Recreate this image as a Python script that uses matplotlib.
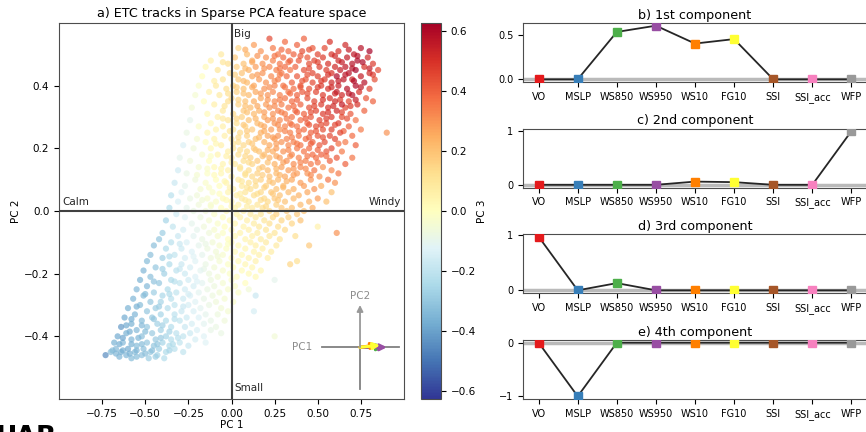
import matplotlib
matplotlib.use("Agg")
import matplotlib.pyplot as plt
import numpy as np

# ---------------- data ----------------
features = ["VO", "MSLP", "WS850", "WS950", "WS10", "FG10", "SSI", "SSI_acc", "WFP"]
comp1 = [0.0, 0.0, 0.53, 0.60, 0.40, 0.45, 0.0, 0.0, 0.0]
comp2 = [0.0, 0.0, 0.0, 0.0, 0.06, 0.05, 0.0, 0.0, 1.0]
comp3 = [0.97, 0.0, 0.13, 0.0, 0.0, 0.0, 0.0, 0.0, 0.0]
comp4 = [0.0, -1.0, 0.0, 0.0, 0.0, 0.0, 0.0, 0.0, 0.0]
panel_titles = ["b) 1st component", "c) 2nd component", "d) 3rd component", "e) 4th component"]
panel_yticks = [[0.0, 0.5], [0, 1], [0, 1], [-1, 0]]
cbar_ticks = [-0.6, -0.4, -0.2, 0.0, 0.2, 0.4, 0.6]

# scatter of tracks: PC2 level of each row, PC1 positions and PC3 colour values per row
pc2_levels = [0.55, 0.54, 0.53, 0.52, 0.51, 0.50, 0.49, 0.48, 0.47, 0.46, 0.45, 0.44, 0.43,
              0.42, 0.41, 0.40, 0.39, 0.38, 0.37, 0.36, 0.35, 0.34, 0.33, 0.32, 0.31, 0.30,
              0.29, 0.28, 0.27, 0.26, 0.25, 0.24, 0.23, 0.22, 0.21, 0.20, 0.19, 0.18, 0.17,
              0.16, 0.15, 0.14, 0.13, 0.12, 0.11, 0.10, 0.09, 0.08, 0.07, 0.06, 0.05, 0.04,
              0.03, 0.02, 0.01, 0.00, -0.01, -0.02, -0.03, -0.04, -0.05, -0.06, -0.07, -0.08,
              -0.09, -0.10, -0.11, -0.12, -0.13, -0.14, -0.15, -0.16, -0.17, -0.18, -0.19,
              -0.20, -0.21, -0.22, -0.23, -0.24, -0.25, -0.26, -0.27, -0.28, -0.29, -0.30,
              -0.31, -0.32, -0.33, -0.34, -0.35, -0.36, -0.37, -0.38, -0.39, -0.40, -0.41,
              -0.42, -0.43, -0.44, -0.45, -0.46, -0.47]
pc1_rows = [
    [0.22, 0.42],
    [0.31, 0.57],
    [0.13, 0.38, 0.66],
    [0.04, 0.24, 0.47, 0.54, 0.75],
    [0.17, 0.33, 0.41, 0.62, 0.80],
    [-0.06, 0.09, 0.27, 0.36, 0.50, 0.58, 0.71],
    [0.02, 0.20, 0.30, 0.44, 0.53, 0.67, 0.79],
    [-0.12, 0.12, 0.24, 0.34, 0.39, 0.48, 0.62, 0.73],
    [-0.02, 0.07, 0.18, 0.28, 0.45, 0.56, 0.70, 0.82],
    [-0.15, 0.03, 0.14, 0.22, 0.31, 0.37, 0.51, 0.60, 0.66, 0.77],
    [-0.08, 0.10, 0.26, 0.34, 0.42, 0.55, 0.63, 0.72, 0.85],
    [-0.01, 0.06, 0.18, 0.29, 0.47, 0.58, 0.68, 0.80],
    [-0.17, 0.12, 0.23, 0.32, 0.38, 0.50, 0.61, 0.75],
    [-0.05, 0.04, 0.16, 0.27, 0.43, 0.54, 0.65, 0.70, 0.83],
    [0.09, 0.20, 0.35, 0.47, 0.58, 0.77],
    [-0.19, -0.09, 0.01, 0.13, 0.25, 0.30, 0.40, 0.52, 0.62, 0.72],
    [-0.03, 0.07, 0.19, 0.36, 0.45, 0.56, 0.67, 0.80],
    [-0.13, 0.03, 0.14, 0.24, 0.33, 0.41, 0.49, 0.61, 0.74],
    [-0.21, -0.07, 0.10, 0.21, 0.28, 0.38, 0.53, 0.64, 0.70],
    [0.00, 0.17, 0.31, 0.44, 0.57, 0.78],
    [-0.16, -0.02, 0.08, 0.13, 0.25, 0.35, 0.48, 0.60, 0.68, 0.82],
    [-0.10, 0.04, 0.20, 0.29, 0.40, 0.52, 0.64, 0.73],
    [-0.23, 0.11, 0.22, 0.33, 0.45, 0.56, 0.66],
    [-0.05, 0.07, 0.16, 0.27, 0.37, 0.49, 0.61, 0.77],
    [-0.14, 0.01, 0.13, 0.24, 0.31, 0.42, 0.53, 0.69],
    [-0.08, 0.06, 0.19, 0.35, 0.46, 0.58, 0.64],
    [-0.24, -0.02, 0.10, 0.21, 0.28, 0.40, 0.51, 0.72],
    [-0.12, 0.03, 0.15, 0.25, 0.34, 0.44, 0.55, 0.62],
    [-0.19, -0.05, 0.08, 0.19, 0.31, 0.38, 0.49, 0.68],
    [-0.09, 0.01, 0.12, 0.23, 0.28, 0.42, 0.53, 0.58, 0.75],
    [-0.26, -0.14, 0.05, 0.17, 0.34, 0.46, 0.63, 0.90],
    [-0.04, 0.09, 0.21, 0.27, 0.39, 0.50, 0.57, 0.70],
    [-0.20, -0.10, 0.00, 0.14, 0.25, 0.32, 0.43, 0.60],
    [-0.15, 0.04, 0.10, 0.19, 0.29, 0.36, 0.47, 0.54, 0.66],
    [-0.28, -0.06, 0.07, 0.22, 0.33, 0.40, 0.51, 0.72],
    [-0.22, -0.12, 0.01, 0.13, 0.26, 0.38, 0.45, 0.58],
    [-0.02, 0.09, 0.16, 0.24, 0.30, 0.42, 0.55, 0.64],
    [-0.17, -0.08, 0.04, 0.19, 0.35, 0.47, 0.52],
    [-0.30, 0.00, 0.11, 0.22, 0.28, 0.39, 0.49, 0.61, 0.70],
    [-0.24, -0.13, 0.07, 0.15, 0.32, 0.43, 0.57],
    [-0.05, 0.02, 0.12, 0.25, 0.36, 0.46, 0.66],
    [-0.19, -0.10, 0.05, 0.18, 0.29, 0.40, 0.53],
    [-0.31, -0.02, 0.10, 0.21, 0.33, 0.48, 0.58],
    [-0.26, -0.14, -0.06, 0.08, 0.15, 0.26, 0.38, 0.44, 0.62],
    [0.00, 0.12, 0.22, 0.31, 0.51],
    [-0.21, -0.09, 0.04, 0.17, 0.27, 0.35, 0.46, 0.56],
    [-0.33, -0.15, -0.03, 0.10, 0.24, 0.40, 0.60],
    [-0.27, -0.07, 0.06, 0.14, 0.20, 0.30, 0.42, 0.52],
    [-0.18, 0.01, 0.11, 0.26, 0.36, 0.48],
    [-0.29, -0.11, -0.02, 0.08, 0.17, 0.23, 0.33, 0.44, 0.58],
    [-0.35, -0.20, 0.03, 0.13, 0.28, 0.39],
    [-0.24, -0.14, -0.05, 0.06, 0.19, 0.25, 0.36, 0.50],
    [-0.31, -0.09, 0.00, 0.10, 0.21, 0.31, 0.45, 0.55],
    [-0.19, -0.12, 0.04, 0.15, 0.26, 0.40],
    [-0.36, -0.26, -0.06, 0.02, 0.12, 0.18, 0.29, 0.35, 0.47],
    [-0.22, -0.15, -0.03, 0.07, 0.22, 0.32, 0.42],
    [-0.32, -0.10, 0.03, 0.11, 0.17, 0.26, 0.38],
    [-0.27, -0.18, -0.05, 0.05, 0.14, 0.24, 0.33],
    [-0.38, -0.13, -0.01, 0.09, 0.19, 0.29, 0.40],
    [-0.23, -0.08, 0.02, 0.13, 0.22, 0.35],
    [-0.34, -0.16, -0.04, 0.07, 0.16, 0.27, 0.50],
    [-0.28, -0.20, -0.10, 0.00, 0.10, 0.20, 0.31],
    [-0.40, -0.13, -0.05, 0.05, 0.15, 0.25, 0.61],
    [-0.31, -0.22, -0.08, 0.02, 0.12, 0.22, 0.37],
    [-0.42, -0.17, -0.02, 0.08, 0.17, 0.28],
    [-0.35, -0.26, -0.11, 0.00, 0.11, 0.20],
    [-0.45, -0.19, -0.07, 0.04, 0.14, 0.26, 0.45],
    [-0.38, -0.29, -0.14, -0.03, 0.08, 0.18],
    [-0.23, -0.09, 0.02, 0.13, 0.23],
    [-0.47, -0.33, -0.17, -0.05, 0.06, 0.16],
    [-0.40, -0.27, -0.12, 0.00, 0.10, 0.21],
    [-0.49, -0.21, -0.07, 0.04, 0.14, 0.38],
    [-0.36, -0.29, -0.15, -0.02, 0.08, 0.34],
    [-0.44, -0.24, -0.10, 0.01, 0.12],
    [-0.51, -0.32, -0.18, -0.05, 0.06, 0.17],
    [-0.39, -0.27, -0.13, -0.01, 0.10],
    [-0.47, -0.21, -0.08, 0.03, 0.14],
    [-0.53, -0.35, -0.25, -0.12, 0.00, 0.25],
    [-0.42, -0.30, -0.17, -0.05, 0.08],
    [-0.49, -0.22, -0.10, 0.02],
    [-0.55, -0.37, -0.27, -0.14, -0.02, 0.10],
    [-0.45, -0.32, -0.19, -0.07, 0.04],
    [-0.51, -0.40, -0.24, -0.11, 0.14],
    [-0.57, -0.35, -0.28, -0.16, -0.04],
    [-0.47, -0.41, -0.21, -0.09, 0.01],
    [-0.53, -0.33, -0.25, -0.13],
    [-0.60, -0.44, -0.37, -0.18, -0.06],
    [-0.49, -0.29, -0.22, -0.02, 0.13],
    [-0.56, -0.41, -0.33, -0.15, -0.08],
    [-0.62, -0.46, -0.26, -0.19],
    [-0.52, -0.38, -0.30, -0.12, -0.04],
    [-0.58, -0.43, -0.23, -0.16],
    [-0.64, -0.49, -0.35, -0.27, -0.09],
    [-0.55, -0.41, -0.20, -0.12],
    [-0.61, -0.46, -0.32, -0.24, -0.06],
    [-0.66, -0.52, -0.38, -0.28, -0.16, 0.25],
    [-0.58, -0.44, -0.35, -0.21],
    [-0.68, -0.63, -0.49, -0.40, -0.30, -0.15],
    [-0.55, -0.45, -0.36, -0.25],
    [-0.67, -0.60, -0.51, -0.42, -0.33],
    [-0.70, -0.64, -0.56, -0.47, -0.38, -0.28],
    [-0.73, -0.61, -0.52, -0.43],
    [-0.58, -0.48, -0.39],
]
pc3_rows = [
    [0.45, 0.40],
    [0.38, 0.50],
    [0.28, 0.40, 0.52],
    [0.15, 0.35, 0.42, 0.45, 0.58],
    [0.30, 0.38, 0.44, 0.50, 0.62],
    [0.08, 0.22, 0.36, 0.40, 0.46, 0.50, 0.56],
    [0.18, 0.30, 0.38, 0.42, 0.48, 0.55, 0.52],
    [0.05, 0.25, 0.33, 0.40, 0.42, 0.46, 0.52, 0.60],
    [0.12, 0.20, 0.30, 0.36, 0.44, 0.50, 0.58, 0.48],
    [0.02, 0.16, 0.28, 0.32, 0.38, 0.40, 0.48, 0.52, 0.56, 0.50],
    [0.10, 0.24, 0.34, 0.36, 0.44, 0.48, 0.55, 0.62, 0.45],
    [0.14, 0.20, 0.30, 0.35, 0.46, 0.50, 0.58, 0.52],
    [0.00, 0.26, 0.32, 0.38, 0.42, 0.47, 0.60, 0.55],
    [0.10, 0.18, 0.28, 0.34, 0.42, 0.48, 0.56, 0.52, 0.44],
    [0.22, 0.30, 0.40, 0.45, 0.52, 0.58],
    [-0.02, 0.08, 0.15, 0.26, 0.33, 0.36, 0.42, 0.48, 0.54, 0.60],
    [0.12, 0.20, 0.30, 0.38, 0.44, 0.50, 0.58, 0.46],
    [0.05, 0.16, 0.26, 0.32, 0.36, 0.42, 0.46, 0.55, 0.50],
    [-0.04, 0.08, 0.22, 0.30, 0.34, 0.40, 0.48, 0.52, 0.58],
    [0.14, 0.26, 0.36, 0.44, 0.50, 0.42],
    [0.00, 0.12, 0.20, 0.25, 0.32, 0.38, 0.46, 0.52, 0.45, 0.40],
    [0.06, 0.16, 0.28, 0.34, 0.40, 0.48, 0.55, 0.50],
    [-0.05, 0.22, 0.30, 0.36, 0.44, 0.50, 0.46],
    [0.08, 0.18, 0.24, 0.33, 0.38, 0.46, 0.52, 0.40],
    [0.02, 0.14, 0.22, 0.30, 0.34, 0.40, 0.48, 0.42],
    [0.05, 0.16, 0.26, 0.36, 0.42, 0.48, 0.44],
    [-0.10, 0.10, 0.20, 0.28, 0.32, 0.38, 0.46, 0.36],
    [0.02, 0.12, 0.22, 0.30, 0.35, 0.40, 0.45, 0.48],
    [-0.02, 0.06, 0.16, 0.26, 0.33, 0.36, 0.44, 0.40],
    [0.04, 0.10, 0.18, 0.28, 0.30, 0.38, 0.44, 0.47, 0.35],
    [-0.08, 0.03, 0.14, 0.24, 0.34, 0.40, 0.46, 0.30],
    [0.06, 0.16, 0.26, 0.30, 0.36, 0.42, 0.45, 0.38],
    [-0.04, 0.04, 0.10, 0.20, 0.28, 0.33, 0.38, 0.46],
    [0.00, 0.12, 0.16, 0.24, 0.30, 0.34, 0.40, 0.44, 0.35],
    [-0.14, 0.06, 0.14, 0.26, 0.32, 0.36, 0.42, 0.40],
    [-0.06, 0.02, 0.10, 0.18, 0.28, 0.35, 0.38, 0.45],
    [0.06, 0.14, 0.20, 0.25, 0.30, 0.36, 0.42, 0.35],
    [-0.03, 0.04, 0.12, 0.22, 0.32, 0.38, 0.40],
    [-0.10, 0.08, 0.16, 0.24, 0.28, 0.33, 0.38, 0.42, 0.36],
    [-0.06, 0.00, 0.12, 0.18, 0.30, 0.34, 0.40],
    [0.04, 0.08, 0.15, 0.24, 0.31, 0.35, 0.40],
    [-0.04, 0.02, 0.10, 0.20, 0.27, 0.32, 0.30],
    [-0.16, 0.05, 0.13, 0.22, 0.28, 0.36, 0.32],
    [-0.08, -0.01, 0.03, 0.12, 0.16, 0.22, 0.28, 0.30, 0.35],
    [0.07, 0.14, 0.20, 0.26, 0.30],
    [-0.06, 0.00, 0.08, 0.16, 0.22, 0.26, 0.30, 0.36],
    [-0.18, -0.02, 0.04, 0.12, 0.20, 0.28, 0.30],
    [-0.10, 0.00, 0.08, 0.13, 0.16, 0.22, 0.28, 0.25],
    [-0.04, 0.05, 0.12, 0.20, 0.24, 0.30],
    [-0.12, -0.02, 0.04, 0.10, 0.14, 0.18, 0.22, 0.26, 0.20],
    [-0.22, -0.06, 0.06, 0.12, 0.20, 0.24],
    [-0.08, -0.03, 0.02, 0.08, 0.14, 0.18, 0.22, 0.28],
    [-0.14, -0.02, 0.04, 0.08, 0.14, 0.20, 0.24, 0.20],
    [-0.06, -0.03, 0.05, 0.10, 0.16, 0.22],
    [-0.24, -0.10, 0.00, 0.04, 0.08, 0.12, 0.18, 0.20, 0.25],
    [-0.08, -0.05, 0.02, 0.06, 0.14, 0.18, 0.20],
    [-0.16, -0.02, 0.04, 0.08, 0.10, 0.16, 0.18],
    [-0.12, -0.07, 0.00, 0.05, 0.08, 0.14, 0.16],
    [-0.26, -0.04, 0.02, 0.06, 0.10, 0.15, 0.20],
    [-0.10, -0.02, 0.03, 0.07, 0.12, 0.15],
    [-0.20, -0.06, 0.00, 0.04, 0.09, 0.12, 0.05],
    [-0.15, -0.10, -0.03, 0.02, 0.06, 0.10, 0.14],
    [-0.28, -0.06, -0.01, 0.04, 0.07, 0.10, 0.30],
    [-0.18, -0.11, -0.03, 0.02, 0.05, 0.09, 0.12],
    [-0.30, -0.08, 0.00, 0.04, 0.07, 0.10],
    [-0.22, -0.14, -0.05, 0.01, 0.05, 0.08],
    [-0.32, -0.10, -0.03, 0.02, 0.06, 0.08, 0.18],
    [-0.24, -0.17, -0.07, -0.01, 0.03, 0.06],
    [-0.13, -0.05, 0.01, 0.04, 0.07],
    [-0.32, -0.20, -0.10, -0.03, 0.02, 0.05],
    [-0.27, -0.15, -0.06, 0.00, 0.04, 0.06],
    [-0.33, -0.12, -0.04, 0.02, 0.05, 0.12],
    [-0.24, -0.18, -0.08, -0.01, 0.03, 0.15],
    [-0.30, -0.15, -0.05, 0.00, 0.03],
    [-0.35, -0.21, -0.11, -0.03, 0.01, 0.03],
    [-0.27, -0.17, -0.07, -0.01, 0.02],
    [-0.32, -0.13, -0.05, 0.00, 0.02],
    [-0.36, -0.24, -0.16, -0.07, -0.02, -0.10],
    [-0.30, -0.20, -0.11, -0.04, 0.00],
    [-0.34, -0.15, -0.07, -0.02],
    [-0.34, -0.24, -0.16, -0.08, -0.03, -0.05],
    [-0.28, -0.20, -0.11, -0.05, -0.02],
    [-0.33, -0.25, -0.14, -0.07, -0.18],
    [-0.35, -0.22, -0.17, -0.09, -0.04],
    [-0.30, -0.26, -0.12, -0.06, -0.02],
    [-0.33, -0.20, -0.15, -0.08],
    [-0.36, -0.28, -0.23, -0.11, -0.05],
    [-0.30, -0.18, -0.14, -0.04, -0.15],
    [-0.35, -0.26, -0.21, -0.10, -0.07],
    [-0.38, -0.29, -0.17, -0.13],
    [-0.33, -0.24, -0.20, -0.09, -0.06],
    [-0.36, -0.27, -0.15, -0.11],
    [-0.42, -0.30, -0.23, -0.18, -0.08],
    [-0.34, -0.27, -0.14, -0.09],
    [-0.36, -0.29, -0.21, -0.17, -0.08],
    [-0.38, -0.32, -0.26, -0.20, -0.12, -0.05],
    [-0.35, -0.29, -0.23, -0.15],
    [-0.36, -0.34, -0.30, -0.26, -0.20, -0.12],
    [-0.33, -0.30, -0.24, -0.18],
    [-0.34, -0.38, -0.32, -0.27, -0.22],
    [-0.32, -0.36, -0.33, -0.29, -0.24, -0.20],
    [-0.45, -0.35, -0.31, -0.26],
    [-0.33, -0.28, -0.23],
]

# additional tracks read from the densest parts of the cloud (between the rows above)
pc2_levels_dense = [0.515, 0.495, 0.475, 0.455, 0.435, 0.415, 0.395, 0.375, 0.355, 0.335,
                    0.315, 0.295, 0.275, 0.255, 0.235, 0.215, 0.195, 0.175, 0.155, 0.135,
                    0.115, 0.095, 0.075, 0.055, 0.035, 0.015, -0.105, -0.145, -0.185,
                    -0.225, -0.265, -0.305, -0.345, -0.365, -0.385, -0.405, -0.425, -0.445,
                    -0.455, -0.465]
pc1_rows_dense = [
    [0.08, 0.29, 0.45, 0.68],
    [0.15, 0.25, 0.40, 0.60, 0.73],
    [-0.05, 0.12, 0.33, 0.50, 0.64, 0.76],
    [0.08, 0.19, 0.28, 0.45, 0.70, 0.80],
    [0.02, 0.15, 0.28, 0.44, 0.56, 0.66, 0.82],
    [-0.10, 0.07, 0.25, 0.41, 0.52, 0.62, 0.71],
    [0.03, 0.12, 0.22, 0.31, 0.40, 0.50, 0.58, 0.75],
    [-0.02, 0.07, 0.17, 0.34, 0.44, 0.60, 0.68],
    [0.04, 0.21, 0.28, 0.38, 0.53, 0.63, 0.72],
    [-0.04, 0.08, 0.15, 0.25, 0.36, 0.48, 0.59, 0.69],
    [0.09, 0.19, 0.29, 0.38, 0.46, 0.56, 0.64],
    [-0.05, 0.03, 0.14, 0.24, 0.32, 0.43, 0.55, 0.67],
    [0.07, 0.17, 0.27, 0.35, 0.45, 0.52, 0.60],
    [-0.01, 0.09, 0.19, 0.31, 0.39, 0.49, 0.65],
    [0.04, 0.16, 0.24, 0.35, 0.45, 0.53],
    [-0.09, 0.01, 0.12, 0.26, 0.38, 0.46, 0.62],
    [0.05, 0.14, 0.21, 0.33, 0.50],
    [-0.12, -0.03, 0.08, 0.18, 0.26, 0.34, 0.44, 0.55],
    [0.00, 0.10, 0.21, 0.30, 0.40, 0.50],
    [-0.14, -0.06, 0.05, 0.16, 0.26, 0.36, 0.43],
    [-0.20, -0.10, 0.08, 0.18, 0.28, 0.36, 0.46],
    [-0.04, 0.06, 0.14, 0.22, 0.32],
    [-0.13, -0.01, 0.09, 0.19, 0.30],
    [-0.07, 0.05, 0.15, 0.24],
    [-0.17, -0.03, 0.08, 0.17, 0.27],
    [-0.12, 0.00, 0.09, 0.20],
    [-0.30, -0.15, -0.02],
    [-0.36, -0.22, -0.08],
    [-0.40, -0.30, -0.16],
    [-0.45, -0.33, -0.20],
    [-0.50, -0.36, -0.25],
    [-0.55, -0.42, -0.28],
    [-0.58, -0.45, -0.33],
    [-0.61, -0.52, -0.40],
    [-0.59, -0.50, -0.36],
    [-0.63, -0.54, -0.41, -0.31],
    [-0.65, -0.58, -0.52, -0.43, -0.34],
    [-0.69, -0.63, -0.55, -0.46, -0.36],
    [-0.67, -0.59, -0.50],
    [-0.65, -0.55, -0.44],
]
pc3_rows_dense = [
    [0.25, 0.38, 0.44, 0.55],
    [0.30, 0.36, 0.42, 0.52, 0.58],
    [0.10, 0.26, 0.38, 0.47, 0.55, 0.60],
    [0.22, 0.30, 0.36, 0.45, 0.58, 0.55],
    [0.16, 0.28, 0.34, 0.43, 0.50, 0.57, 0.48],
    [0.06, 0.22, 0.32, 0.42, 0.48, 0.55, 0.60],
    [0.17, 0.25, 0.31, 0.36, 0.42, 0.48, 0.52, 0.56],
    [0.12, 0.20, 0.28, 0.38, 0.44, 0.52, 0.56],
    [0.16, 0.29, 0.34, 0.40, 0.50, 0.48, 0.55],
    [0.10, 0.20, 0.26, 0.32, 0.38, 0.46, 0.52, 0.48],
    [0.20, 0.28, 0.34, 0.40, 0.44, 0.50, 0.46],
    [0.08, 0.15, 0.23, 0.30, 0.35, 0.42, 0.48, 0.44],
    [0.18, 0.24, 0.31, 0.36, 0.42, 0.44, 0.45],
    [0.10, 0.18, 0.25, 0.33, 0.37, 0.42, 0.40],
    [0.14, 0.22, 0.28, 0.34, 0.40, 0.44],
    [0.03, 0.10, 0.18, 0.28, 0.35, 0.40, 0.38],
    [0.12, 0.18, 0.24, 0.32, 0.40],
    [-0.01, 0.05, 0.14, 0.20, 0.26, 0.30, 0.36, 0.38],
    [0.06, 0.13, 0.20, 0.27, 0.33, 0.36],
    [-0.02, 0.03, 0.09, 0.16, 0.23, 0.29, 0.32],
    [-0.04, 0.01, 0.11, 0.17, 0.23, 0.28, 0.32],
    [0.03, 0.09, 0.14, 0.19, 0.24],
    [-0.02, 0.05, 0.10, 0.16, 0.22],
    [0.00, 0.06, 0.12, 0.18],
    [-0.05, 0.02, 0.08, 0.13, 0.18],
    [-0.03, 0.03, 0.07, 0.14],
    [-0.18, -0.08, -0.01],
    [-0.23, -0.12, -0.05],
    [-0.27, -0.18, -0.09],
    [-0.31, -0.22, -0.13],
    [-0.33, -0.24, -0.15],
    [-0.36, -0.28, -0.18],
    [-0.37, -0.30, -0.22],
    [-0.38, -0.34, -0.27],
    [-0.37, -0.33, -0.26],
    [-0.39, -0.35, -0.29, -0.22],
    [-0.37, -0.36, -0.33, -0.30, -0.24],
    [-0.33, -0.37, -0.35, -0.32, -0.26],
    [-0.35, -0.36, -0.32],
    [-0.35, -0.33, -0.28],
]

# ---------------- build arrays ----------------
pc1, pc2, pc3 = [], [], []
for levels, xrows, crows in [(pc2_levels, pc1_rows, pc3_rows),
                             (pc2_levels_dense, pc1_rows_dense, pc3_rows_dense)]:
    for yv, xs_row, cs_row in zip(levels, xrows, crows):
        n = min(len(xs_row), len(cs_row))
        pc1 += xs_row[:n]
        pc2 += [yv] * n
        pc3 += cs_row[:n]
pc1 = np.array(pc1); pc2 = np.array(pc2); pc3 = np.array(pc3)
order = np.argsort(np.abs(pc3))

set1 = plt.get_cmap("Set1").colors
feat_colors = [set1[i] for i in range(9)]

fig = plt.figure(figsize=(8.66, 4.32), dpi=100)

# ---------------- scatter panel ----------------
ax = fig.add_axes([59/866, 1-399/432, 345/866, 376/432])
vlim = 0.627
sc = ax.scatter(pc1[order], pc2[order], c=pc3[order], cmap="RdYlBu_r", vmin=-vlim, vmax=vlim,
                s=20, alpha=0.7, linewidths=0)
ax.axhline(0, color="0.25", lw=1.5, zorder=3)
ax.axvline(0, color="0.25", lw=1.5, zorder=3)
ax.set_xlim(-1.0, 1.0)
ax.set_ylim(-0.6, 0.6)
ax.set_xticks([-0.75, -0.5, -0.25, 0.0, 0.25, 0.5, 0.75])
ax.set_yticks([-0.4, -0.2, 0.0, 0.2, 0.4])
ax.tick_params(labelsize=7.5)
ax.set_xlabel("PC 1", fontsize=7.5, labelpad=1)
ax.set_ylabel("PC 2", fontsize=7.5, labelpad=2)
ax.set_title("a) ETC tracks in Sparse PCA feature space", fontsize=9.2, pad=4)
for s in ax.spines.values():
    s.set_color("0.3")
ax.text(0.015, 0.565, "Big", fontsize=7.5, ha="left", va="center", color="0.15")
ax.text(0.015, -0.565, "Small", fontsize=7.5, ha="left", va="center", color="0.15")
ax.text(-0.98, 0.012, "Calm", fontsize=7.5, ha="left", va="bottom", color="0.15")
ax.text(0.98, 0.012, "Windy", fontsize=7.5, ha="right", va="bottom", color="0.15")

# inset compass of loadings
cx, cy = 0.745, -0.435
ax.plot([0.525, 0.97], [cy, cy], color="0.5", lw=1.3, zorder=4)
ax.plot([cx, cx], [-0.567, cy], color="0.5", lw=1.3, zorder=4)
ax.text(0.41, cy, "PC1", fontsize=7.5, color="0.55", ha="center", va="center")
ax.text(cx, -0.272, "PC2", fontsize=7.5, color="0.55", ha="center", va="center")
for l1, l2, col in zip(comp1, comp2, feat_colors):
    if l1 == 0 and l2 == 0:
        continue
    ax.annotate("", xy=(cx + 0.26 * l1, cy + 0.135 * l2), xytext=(cx, cy),
                arrowprops=dict(arrowstyle="-|>", color=col, lw=2.2 if l2 < 0.5 else 1.3,
                                mutation_scale=9, shrinkA=0, shrinkB=0), zorder=5)

# colorbar
cax = fig.add_axes([421/866, 1-399/432, 20/866, 376/432])
cb = fig.colorbar(sc, cax=cax, ticks=cbar_ticks)
cb.solids.set_alpha(1)
cb.ax.tick_params(labelsize=7.5)
cb.set_label("PC 3", fontsize=7.5, labelpad=1)
cb.outline.set_edgecolor("0.3")

# ---------------- component panels ----------------
comps = [comp1, comp2, comp3, comp4]
tops = [23, 128.5, 234, 340]
xs = np.arange(len(features))
for comp, title, yt, top in zip(comps, panel_titles, panel_yticks, tops):
    a = fig.add_axes([523/866, 1-(top+59)/432, 344/866, 59/432])
    a.axhline(0, color="0.55", lw=2.5, alpha=0.6, zorder=1)
    a.plot(xs, comp, color="0.15", lw=1.3, zorder=2)
    for xi, v, col in zip(xs, comp, feat_colors):
        a.plot(xi, v, marker="s", ms=5.5, color=col, mec=col, zorder=3, ls="none")
    a.set_xticks(xs)
    a.set_xticklabels(features)
    a.set_yticks(yt)
    a.tick_params(labelsize=7)
    a.set_title(title, fontsize=9.2, pad=3)
    for s in a.spines.values():
        s.set_color("0.3")

fig.text(-0.005, -0.045, "UAB", fontsize=19, fontweight="bold", ha="left", va="bottom")

fig.savefig("out.png", dpi=100)
